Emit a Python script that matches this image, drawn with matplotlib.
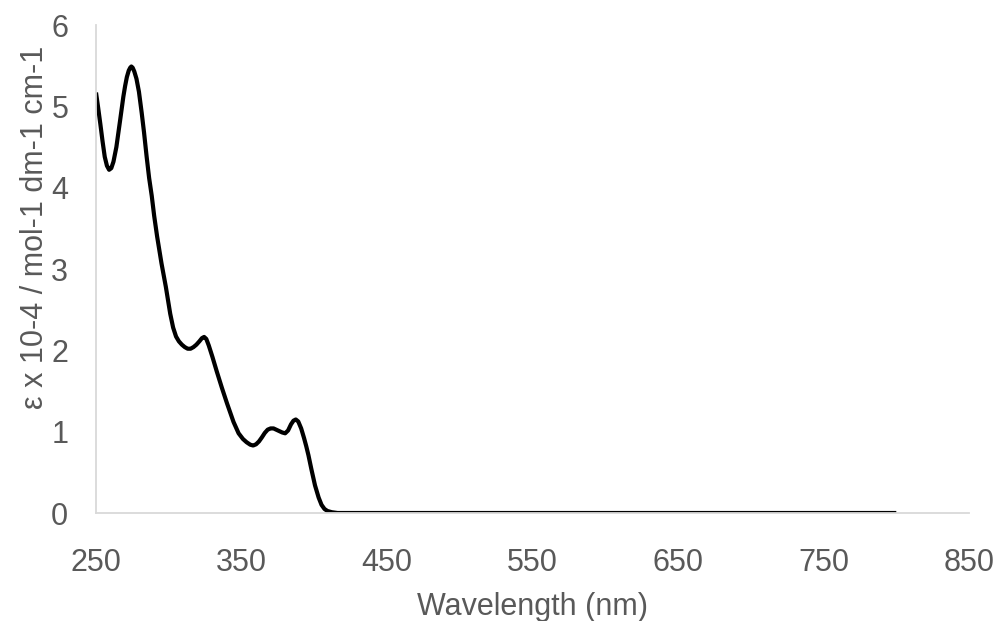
import matplotlib
matplotlib.use("Agg")
import matplotlib.pyplot as plt

# Espectro UV-Vis (nm, ε x 10-4)
comprimento_onda = [250, 251.5, 253, 254.5, 256, 257.5, 259, 260.5, 262, 264,
                    266.5, 268.8, 270, 271.2, 272.5, 273.5, 274.3, 275.2, 276.3,
                    277.8, 279.5, 281.4, 283, 284.8, 286.5, 288.3, 290, 292,
                    295, 298, 301, 303, 305, 307, 309, 311, 313, 315, 317, 319,
                    321, 322.8, 324.3, 325.8, 327.5, 330, 333, 336.5, 340, 344.5,
                    348, 351, 353.5, 356, 358, 360, 362, 364, 366, 368, 370, 372,
                    375, 378, 380, 382, 384, 385.7, 387.3, 389, 391, 393, 394.5,
                    396, 398, 400.5, 403, 405, 407, 409, 412, 416, 420, 500,
                    600, 700, 800]
epsilon = [5.17, 4.98, 4.78, 4.57, 4.38, 4.27, 4.22, 4.24, 4.32, 4.50,
           4.82, 5.12, 5.25, 5.36, 5.44, 5.475, 5.49, 5.475, 5.43,
           5.34, 5.18, 4.92, 4.68, 4.38, 4.12, 3.90, 3.65, 3.40,
           3.07, 2.78, 2.45, 2.28, 2.17, 2.11, 2.07, 2.04, 2.02, 2.02, 2.04, 2.07,
           2.11, 2.15, 2.165, 2.14, 2.06, 1.92, 1.74, 1.54, 1.35, 1.12,
           0.98, 0.91, 0.87, 0.84, 0.83, 0.845, 0.88, 0.93, 0.985, 1.025, 1.04, 1.04,
           1.015, 0.99, 0.98, 1.015, 1.09, 1.135, 1.15, 1.125, 1.04, 0.92, 0.82,
           0.71, 0.54, 0.34, 0.19, 0.10, 0.05, 0.025, 0.01, 0.0, 0.0, 0.0,
           0.0, 0.0, 0.0]

x_ticks = [250, 350, 450, 550, 650, 750, 850]
y_ticks = [0, 1, 2, 3, 4, 5, 6]

COR_TEXTO = "#595959"
COR_EIXO = "#d9d9d9"

plt.rcParams["font.family"] = ["Liberation Sans", "DejaVu Sans"]

fig = plt.figure(figsize=(9.98, 6.21), dpi=100)
# eixo: x 96..969 px, y 25..513 px
ax = fig.add_axes([0.0962, 0.1739, 0.8748, 0.7858])

ax.plot(comprimento_onda, epsilon, color="black", linewidth=3.0,
        solid_joinstyle="round", solid_capstyle="butt")

ax.set_xlim(250, 850)
ax.set_ylim(0, 6)
ax.set_xticks(x_ticks)
ax.set_yticks(y_ticks)
ax.tick_params(length=0, labelsize=22, colors=COR_TEXTO)
ax.tick_params(axis="x", pad=25.5)
ax.tick_params(axis="y", pad=20)

for lado in ("top", "right"):
    ax.spines[lado].set_visible(False)
for lado in ("left", "bottom"):
    ax.spines[lado].set_color(COR_EIXO)
    ax.spines[lado].set_linewidth(1.3)

ax.set_xlabel("Wavelength (nm)", fontsize=22, color=COR_TEXTO, labelpad=10)
ax.set_ylabel("ε x 10-4 / mol-1 dm-1 cm-1", fontsize=22, color=COR_TEXTO)
ax.yaxis.set_label_coords(-0.053, 0.585)

fig.savefig("out.png", dpi=100)
